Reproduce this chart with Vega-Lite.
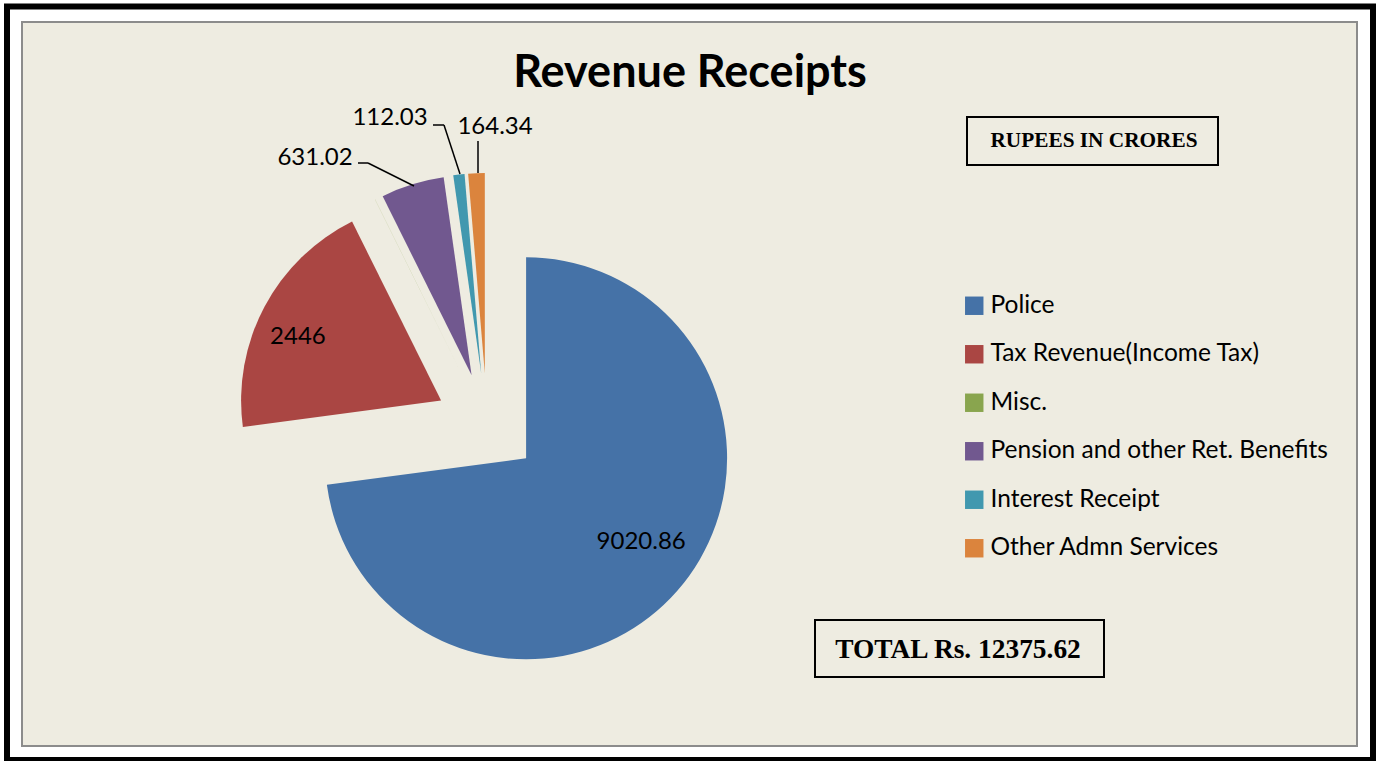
{
  "$schema": "https://vega.github.io/schema/vega-lite/v6.json",
  "autosize": {"type": "none"},
  "width": 1335,
  "height": 724,
  "padding": {"left": 22, "top": 22, "right": 26, "bottom": 15},
  "background": "white",
  "view": {"fill": "#EEECE1", "stroke": "#8C8C8C", "strokeWidth": 2},
  "config": {
    "view": {"fill": "#EEECE1", "stroke": "#8C8C8C", "strokeWidth": 2},
    "font": "Lato"
  },
  "data": {
    "values": [
      {"name": "Police", "value": 9020.86, "order": 1},
      {"name": "Tax Revenue(Income Tax)", "value": 2446, "order": 2},
      {"name": "Misc.", "value": 1.37, "order": 3},
      {"name": "Pension and other Ret. Benefits", "value": 631.02, "order": 4},
      {"name": "Interest Receipt", "value": 112.03, "order": 5},
      {"name": "Other Admn Services", "value": 164.34, "order": 6}
    ]
  },
  "layer": [
    {
      "data": {"values": [{}]},
      "mark": {"type": "rect", "fill": "transparent", "stroke": "black", "strokeWidth": 6},
      "encoding": {"x": {"value": -15}, "x2": {"value": 1351}, "y": {"value": -15.5}, "y2": {"value": 738}}
    },
    {
      "mark": {"type": "arc", "x": 504.1, "y": 436.3, "outerRadius": 201},
      "encoding": {
        "theta": {"field": "value", "type": "quantitative", "stack": true},
        "order": {"field": "order", "type": "quantitative"},
        "color": {"field": "name", "type": "nominal",
          "scale": {"domain": ["Police", "Tax Revenue(Income Tax)", "Misc.", "Pension and other Ret. Benefits", "Interest Receipt", "Other Admn Services"],
                    "range": ["#4572A7", "#AA4643", "#89A54E", "#71588F", "#4198AF", "#DB843D"]},
          "legend": {"orient": "none", "legendX": 940, "legendY": 271.5, "title": null, "symbolType": "square", "symbolSize": 340, "symbolStrokeWidth": 0, "labelFont": "Lato", "labelFontSize": 24.5, "labelColor": "#000000", "rowPadding": 23.5, "labelOffset": 4, "padding": 0, "labelLimit": 500}},
        "opacity": {"condition": {"test": "datum.name === 'Police'", "value": 1}, "value": 0}
      }
    },
    {
      "mark": {"type": "arc", "x": 419.1, "y": 378.6, "outerRadius": 200},
      "encoding": {
        "theta": {"field": "value", "type": "quantitative", "stack": true},
        "order": {"field": "order", "type": "quantitative"},
        "color": {"field": "name", "type": "nominal",
          "scale": {"domain": ["Police", "Tax Revenue(Income Tax)", "Misc.", "Pension and other Ret. Benefits", "Interest Receipt", "Other Admn Services"],
                    "range": ["#4572A7", "#AA4643", "#89A54E", "#71588F", "#4198AF", "#DB843D"]}},
        "opacity": {"condition": {"test": "datum.name === 'Tax Revenue(Income Tax)'", "value": 1}, "value": 0}
      }
    },
    {
      "mark": {"type": "arc", "x": 441.9, "y": 356.4, "outerRadius": 200},
      "encoding": {
        "theta": {"field": "value", "type": "quantitative", "stack": true},
        "order": {"field": "order", "type": "quantitative"},
        "color": {"field": "name", "type": "nominal",
          "scale": {"domain": ["Police", "Tax Revenue(Income Tax)", "Misc.", "Pension and other Ret. Benefits", "Interest Receipt", "Other Admn Services"],
                    "range": ["#4572A7", "#AA4643", "#89A54E", "#71588F", "#4198AF", "#DB843D"]}},
        "opacity": {"condition": {"test": "datum.name === 'Misc.'", "value": 1}, "value": 0}
      }
    },
    {
      "mark": {"type": "arc", "x": 449.6, "y": 353.3, "outerRadius": 200},
      "encoding": {
        "theta": {"field": "value", "type": "quantitative", "stack": true},
        "order": {"field": "order", "type": "quantitative"},
        "color": {"field": "name", "type": "nominal",
          "scale": {"domain": ["Police", "Tax Revenue(Income Tax)", "Misc.", "Pension and other Ret. Benefits", "Interest Receipt", "Other Admn Services"],
                    "range": ["#4572A7", "#AA4643", "#89A54E", "#71588F", "#4198AF", "#DB843D"]}},
        "opacity": {"condition": {"test": "datum.name === 'Pension and other Ret. Benefits'", "value": 1}, "value": 0}
      }
    },
    {
      "mark": {"type": "arc", "x": 459.2, "y": 351.3, "outerRadius": 200},
      "encoding": {
        "theta": {"field": "value", "type": "quantitative", "stack": true},
        "order": {"field": "order", "type": "quantitative"},
        "color": {"field": "name", "type": "nominal",
          "scale": {"domain": ["Police", "Tax Revenue(Income Tax)", "Misc.", "Pension and other Ret. Benefits", "Interest Receipt", "Other Admn Services"],
                    "range": ["#4572A7", "#AA4643", "#89A54E", "#71588F", "#4198AF", "#DB843D"]}},
        "opacity": {"condition": {"test": "datum.name === 'Interest Receipt'", "value": 1}, "value": 0}
      }
    },
    {
      "mark": {"type": "arc", "x": 462.8, "y": 351.0, "outerRadius": 200},
      "encoding": {
        "theta": {"field": "value", "type": "quantitative", "stack": true},
        "order": {"field": "order", "type": "quantitative"},
        "color": {"field": "name", "type": "nominal",
          "scale": {"domain": ["Police", "Tax Revenue(Income Tax)", "Misc.", "Pension and other Ret. Benefits", "Interest Receipt", "Other Admn Services"],
                    "range": ["#4572A7", "#AA4643", "#89A54E", "#71588F", "#4198AF", "#DB843D"]}},
        "opacity": {"condition": {"test": "datum.name === 'Other Admn Services'", "value": 1}, "value": 0}
      }
    },
    {
      "mark": {"type": "text", "x": 504.1, "y": 437.3, "radius": 145, "dx": 6, "dy": -13, "font": "Lato", "fontSize": 24, "color": "#000000", "align": "center", "baseline": "middle"},
      "encoding": {
        "theta": {"field": "value", "type": "quantitative", "stack": true},
        "order": {"field": "order", "type": "quantitative"},
        "text": {"condition": {"test": "datum.name === 'Police'", "field": "value", "type": "nominal"}, "value": ""}
      }
    },
    {
      "mark": {"type": "text", "x": 419.1, "y": 378.6, "radius": 150, "dx": -10.7, "dy": 6.8, "font": "Lato", "fontSize": 24, "color": "#000000", "align": "center", "baseline": "middle"},
      "encoding": {
        "theta": {"field": "value", "type": "quantitative", "stack": true},
        "order": {"field": "order", "type": "quantitative"},
        "text": {"condition": {"test": "datum.name === 'Tax Revenue(Income Tax)'", "field": "value", "type": "nominal"}, "value": ""}
      }
    },
    {
      "mark": {"type": "text", "x": 449.6, "y": 353.3, "radius": 230, "dx": -88.5, "dy": 2.4, "font": "Lato", "fontSize": 24, "color": "#000000", "align": "center", "baseline": "middle"},
      "encoding": {
        "theta": {"field": "value", "type": "quantitative", "stack": true},
        "order": {"field": "order", "type": "quantitative"},
        "text": {"condition": {"test": "datum.name === 'Pension and other Ret. Benefits'", "field": "value", "type": "nominal"}, "value": ""}
      }
    },
    {
      "mark": {"type": "text", "x": 459.2, "y": 351.3, "radius": 255, "dx": -62.7, "dy": -1.9, "font": "Lato", "fontSize": 24, "color": "#000000", "align": "center", "baseline": "middle"},
      "encoding": {
        "theta": {"field": "value", "type": "quantitative", "stack": true},
        "order": {"field": "order", "type": "quantitative"},
        "text": {"condition": {"test": "datum.name === 'Interest Receipt'", "field": "value", "type": "nominal"}, "value": ""}
      }
    },
    {
      "mark": {"type": "text", "x": 462.8, "y": 351.0, "radius": 246, "dx": 20.5, "dy": -0.2, "font": "Lato", "fontSize": 24, "color": "#000000", "align": "center", "baseline": "middle"},
      "encoding": {
        "theta": {"field": "value", "type": "quantitative", "stack": true},
        "order": {"field": "order", "type": "quantitative"},
        "text": {"condition": {"test": "datum.name === 'Other Admn Services'", "field": "value", "type": "nominal"}, "value": ""}
      }
    },
    {
      "data": {"values": [{}]},
      "mark": {"type": "rule", "stroke": "#000000", "strokeWidth": 1.5},
      "encoding": {"x": {"value": 336}, "y": {"value": 141}, "x2": {"value": 346}, "y2": {"value": 141}}
    },
    {
      "data": {"values": [{}]},
      "mark": {"type": "rule", "stroke": "#000000", "strokeWidth": 1.5},
      "encoding": {"x": {"value": 346}, "y": {"value": 141}, "x2": {"value": 392}, "y2": {"value": 164}}
    },
    {
      "data": {"values": [{}]},
      "mark": {"type": "rule", "stroke": "#000000", "strokeWidth": 1.5},
      "encoding": {"x": {"value": 411}, "y": {"value": 103}, "x2": {"value": 422}, "y2": {"value": 103}}
    },
    {
      "data": {"values": [{}]},
      "mark": {"type": "rule", "stroke": "#000000", "strokeWidth": 1.5},
      "encoding": {"x": {"value": 422}, "y": {"value": 103}, "x2": {"value": 438}, "y2": {"value": 152}}
    },
    {
      "data": {"values": [{}]},
      "mark": {"type": "rule", "stroke": "#000000", "strokeWidth": 1.5},
      "encoding": {"x": {"value": 456}, "y": {"value": 119}, "x2": {"value": 456}, "y2": {"value": 151}}
    },
    {
      "data": {"values": [{}]},
      "mark": {"type": "text", "font": "Lato", "fontSize": 45, "fontWeight": "bold", "color": "#000000", "align": "center", "baseline": "alphabetic"},
      "encoding": {"x": {"value": 668}, "y": {"value": 65}, "text": {"value": "Revenue Receipts"}}
    },
    {
      "data": {"values": [{}]},
      "mark": {"type": "rect", "fill": "transparent", "stroke": "#000000", "strokeWidth": 2},
      "encoding": {"x": {"value": 945}, "x2": {"value": 1196}, "y": {"value": 95}, "y2": {"value": 143}}
    },
    {
      "data": {"values": [{}]},
      "mark": {"type": "text", "font": "Liberation Serif", "fontSize": 21.3, "fontWeight": "bold", "color": "#000000", "align": "center", "baseline": "alphabetic"},
      "encoding": {"x": {"value": 1072}, "y": {"value": 125}, "text": {"value": "RUPEES IN CRORES"}}
    },
    {
      "data": {"values": [{}]},
      "mark": {"type": "rect", "fill": "transparent", "stroke": "#000000", "strokeWidth": 2},
      "encoding": {"x": {"value": 793}, "x2": {"value": 1082}, "y": {"value": 598}, "y2": {"value": 655}}
    },
    {
      "data": {"values": [{}]},
      "mark": {"type": "text", "font": "Liberation Serif", "fontSize": 27.4, "fontWeight": "bold", "color": "#000000", "align": "center", "baseline": "alphabetic"},
      "encoding": {"x": {"value": 936}, "y": {"value": 636}, "text": {"value": "TOTAL Rs. 12375.62"}}
    }
  ]
}
